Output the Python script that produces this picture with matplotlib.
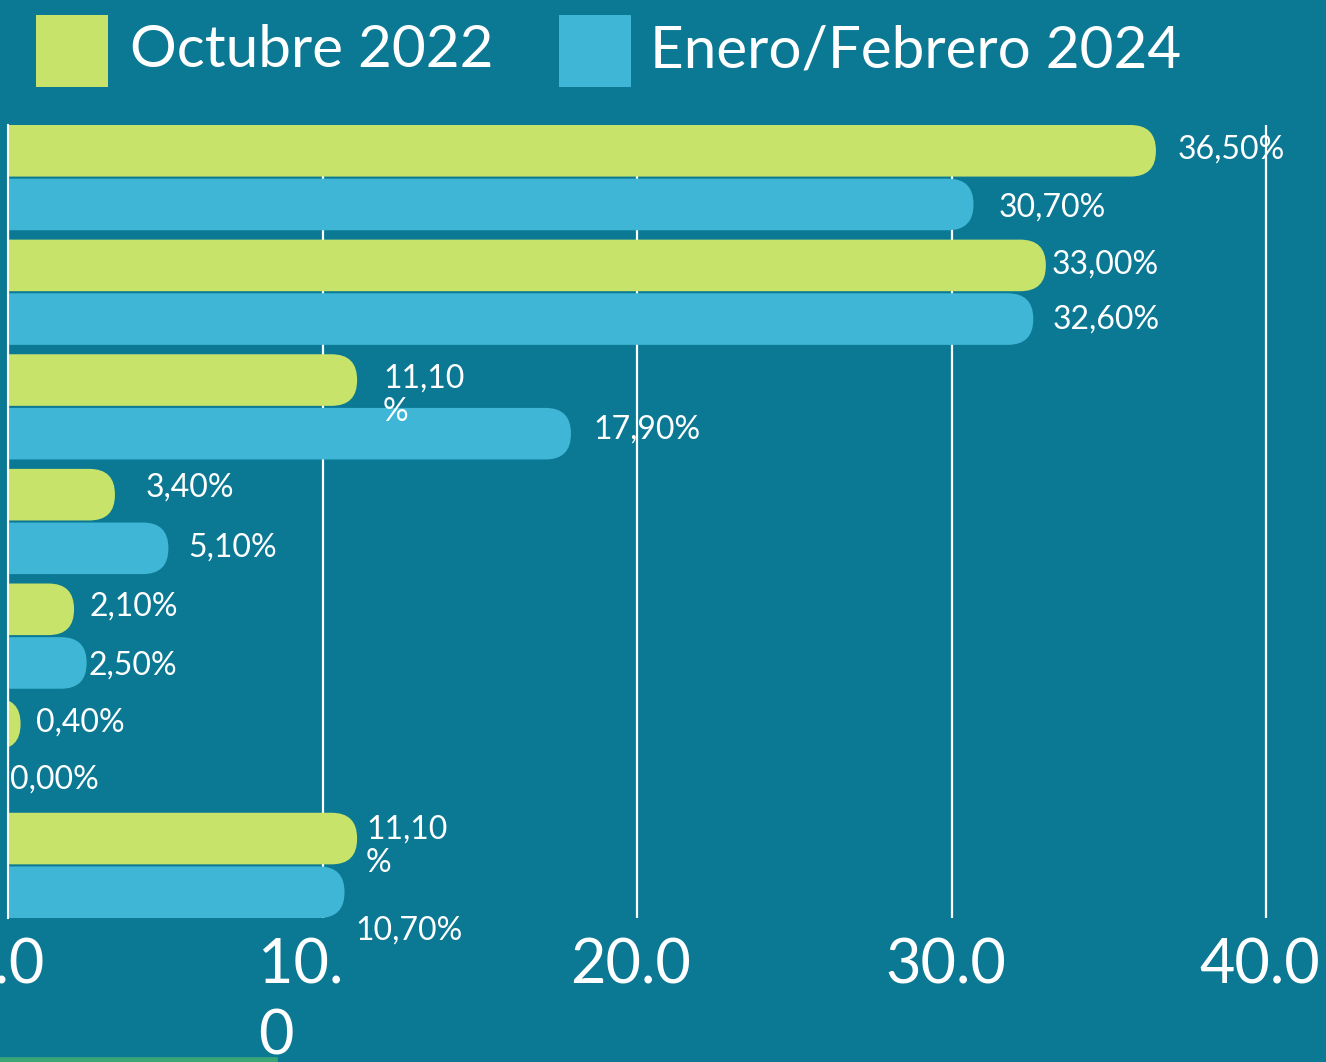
import matplotlib
matplotlib.use("Agg")
import matplotlib.pyplot as plt
import matplotlib.transforms as mtransforms
from matplotlib.patches import FancyBboxPatch, BoxStyle, Rectangle
from matplotlib.lines import Line2D
import numpy as np

# datos (valores en %)
series_names = ["Octubre 2022", "Enero/Febrero 2024"]
oct_2022 = [36.5, 33.0, 11.1, 3.4, 2.1, 0.4, 11.1]
ene_feb_2024 = [30.7, 32.6, 17.9, 5.1, 2.5, 0.0, 10.7]
tick_values = [0, 10, 20, 30, 40]
tick_labels = ["0.0", "10.\n0", "20.0", "30.0", "40.0"]

# etiquetas que PowerPoint corta en dos lineas
wrapped_oct = [False, False, True, False, False, False, True]
wrapped_ene = [False] * 7

# desplazamientos manuales de las etiquetas (px: derecha, abajo)
nudge_oct = [(22, -1), (6, -1), (26, 15), (31, -7), (15, -3), (15, -1), (9, 8)]
nudge_ene = [(25, 3), (19, 0), (22, -4), (20, -1), (2, 3), (2, 2), (11, 38)]
tick_nudge = [-6, -22, -6, -6, -6]

BG = "#0b7994"
GREEN = "#c8e36a"
BLUE = "#40b6d6"
FONT = "Lato"

plt.rcParams["font.family"] = [FONT, "DejaVu Sans"]

W, H = 1326, 1062
fig = plt.figure(figsize=(W / 100, H / 100), dpi=100)
fig.patch.set_facecolor(BG)

ax = fig.add_axes([8 / W, 144 / H, (W - 8) / W, 793 / H])
ax.set_facecolor(BG)
px_per_x = 31.45
ax.set_xlim(0, (W - 8) / px_per_x)
ax.set_ylim(6.459, -0.459)
px_per_y = 793 / (6.459 + 0.459)

n = len(oct_2022)
y = np.arange(n)
off = 0.234
h = 0.45

bars_g = ax.barh(y - off, oct_2022, height=h, color=GREEN)
bars_b = ax.barh(y + off, ene_feb_2024, height=h, color=BLUE)

# extremos redondeados
r_px = 25.5
r_x = r_px / px_per_x
aspect = (r_px / px_per_y) / r_x
for bars in (bars_g, bars_b):
    for rect in bars:
        rect.set_visible(False)
        x0, y0 = rect.get_x(), rect.get_y()
        w, hh = rect.get_width(), rect.get_height()
        if w <= 0:
            continue
        p = FancyBboxPatch((x0 - 2, y0), w + 2, hh,
                           boxstyle=BoxStyle.Round(pad=0, rounding_size=r_x),
                           mutation_aspect=aspect,
                           facecolor=rect.get_facecolor(), edgecolor="none",
                           zorder=2)
        ax.add_patch(p)


def fmt(v, wrap):
    s = f"{v:.2f}".replace(".", ",")
    return s + ("\n%" if wrap else "%")


for vals, ys, wraps, nudges in ((oct_2022, y - off, wrapped_oct, nudge_oct),
                                (ene_feb_2024, y + off, wrapped_ene, nudge_ene)):
    for v, yy, wr, (dx, dy) in zip(vals, ys, wraps, nudges):
        ax.annotate(fmt(v, wr), xy=(v, yy), xytext=(dx * 0.72, -dy * 0.72),
                    textcoords="offset points", ha="left", va="center",
                    ma="left", color="white", fontsize=23, linespacing=1.15,
                    zorder=3, annotation_clip=False)

# rejilla
ax.set_xticks(tick_values)
ax.set_xticklabels(tick_labels)
ax.grid(axis="x", color="white", linewidth=1.6, zorder=0)
ax.set_axisbelow(True)
ax.set_yticks([])
for s in ("top", "right", "bottom"):
    ax.spines[s].set_visible(False)
ax.spines["left"].set_color("white")
ax.spines["left"].set_linewidth(1.5)
ax.tick_params(axis="x", length=0, pad=14, labelsize=44, labelcolor="white")
for lab, dx in zip(ax.get_xticklabels(), tick_nudge):
    lab.set_multialignment("left")
    lab.set_verticalalignment("top")
    lab.set_linespacing(1.3)
    lab.set_transform(lab.get_transform() +
                      mtransforms.ScaledTranslation(dx / 100, 0, fig.dpi_scale_trans))

# leyenda (cuadros y texto colocados a mano)
legend_x = [36, 559]
legend_text_x = [130, 650]
for name, col, sx, tx in zip(series_names, [GREEN, BLUE], legend_x, legend_text_x):
    fig.add_artist(Rectangle((sx / W, 1 - 87 / H), 72 / W, 72 / H,
                             transform=fig.transFigure, facecolor=col,
                             edgecolor="none"))
    fig.text(tx / W, 1 - 67 / H, name, color="white", fontsize=42,
             ha="left", va="baseline")

# linea verde inferior
fig.add_artist(Line2D([0, 275 / W], [2 / H, 2 / H], color="#3aa675",
                      linewidth=4, transform=fig.transFigure))

fig.savefig("out.png", dpi=100, facecolor=BG)
